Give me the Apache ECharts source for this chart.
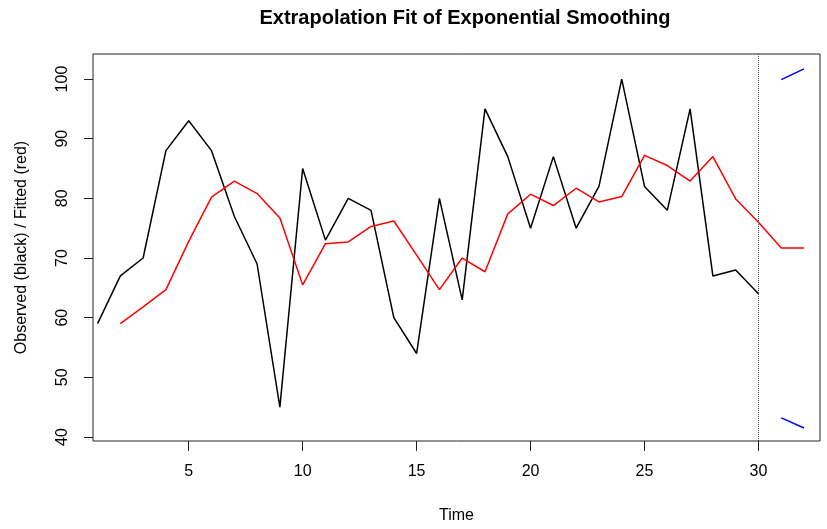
<!DOCTYPE html>
<html><head><meta charset="utf-8">
<script src="https://cdn.jsdelivr.net/npm/echarts@6/dist/echarts.min.js"></script>
<style>html,body{margin:0;padding:0;background:#fff}#c{width:827px;height:529px}</style>
</head><body><div id="c"></div>
<script>
const obsTime = [1,2,3,4,5,6,7,8,9,10,11,12,13,14,15,16,17,18,19,20,21,22,23,24,25,26,27,28,29,30];
const observed = [59,67,70,88,93,88,77,69,45,85,73,80,78,60,54,80,63,95,87,75,87,75,82,100,82,78,95,67,68,64];
const fitTime = [2,3,4,5,6,7,8,9,10,11,12,13,14,15,16,17,18,19,20,21,22,23,24,25,26,27,28,29,30,31,32];
const fitted = [59.0,61.8,64.7,72.8,80.2,82.9,80.8,76.7,65.5,72.4,72.7,75.3,76.2,70.5,64.7,70.0,67.7,77.4,80.7,78.8,81.7,79.4,80.3,87.2,85.5,82.9,87.0,79.9,76.0,71.7,71.7];
const predTime = [31,32];
const upper = [99.9,101.7];
const lower = [43.2,41.5];
const xTicks = [5,10,15,20,25,30];
const yTicks = [40,50,60,70,80,90,100];
const cutTime = 30;

const zip = (a,b)=>a.map((v,i)=>[v,b[i]]);
const font = 'Liberation Sans, Arial, Helvetica, sans-serif';
const chart = echarts.init(document.getElementById('c'), null, {renderer:'canvas'});
chart.setOption({
  animation:false,
  backgroundColor:'#fff',
  title:{text:'Extrapolation Fit of Exponential Smoothing', left:460, textAlign:'center', top:3,
    textStyle:{fontFamily:font, fontSize:20, fontWeight:'bold', color:'#000'}},
  grid:{left:93, right:7, top:54, bottom:88, show:true, borderColor:'#222', borderWidth:1, backgroundColor:'transparent'},
  xAxis:{type:'value', min:0.8, max:32.7, name:'Time', nameLocation:'middle', nameGap:67,
    nameTextStyle:{fontFamily:font, fontSize:16, color:'#000'},
    axisLine:{show:false}, splitLine:{show:false},
    axisTick:{show:true, inside:false, length:10, customValues:xTicks, lineStyle:{color:'#222'}},
    axisLabel:{customValues:xTicks, margin:23, fontFamily:font, fontSize:16, color:'#000'}},
  yAxis:{type:'value', min:39.33, max:104.2, name:'Observed (black) / Fitted (red)', nameLocation:'middle', nameGap:63, nameRotate:90,
    nameTextStyle:{fontFamily:font, fontSize:16, color:'#000'},
    axisLine:{show:false}, splitLine:{show:false},
    axisTick:{show:true, inside:false, length:9, customValues:yTicks, lineStyle:{color:'#222'}},
    axisLabel:{customValues:yTicks, rotate:90, margin:22, fontFamily:font, fontSize:16, color:'#000'}},
  series:[
    {type:'line', data:zip(obsTime,observed), showSymbol:false, symbol:'none', lineStyle:{color:'#000', width:1.5},
      markLine:{silent:true, symbol:['none','none'], label:{show:false}, lineStyle:{type:'dotted', color:'#444', width:1},
        data:[{xAxis:cutTime}]}},
    {type:'line', data:zip(fitTime,fitted), showSymbol:false, symbol:'none', lineStyle:{color:'#ff0000', width:1.5}},
    {type:'line', data:zip(predTime,upper), showSymbol:false, symbol:'none', lineStyle:{color:'#0000ff', width:1.5}},
    {type:'line', data:zip(predTime,lower), showSymbol:false, symbol:'none', lineStyle:{color:'#0000ff', width:1.5}}
  ]
});
</script></body></html>
